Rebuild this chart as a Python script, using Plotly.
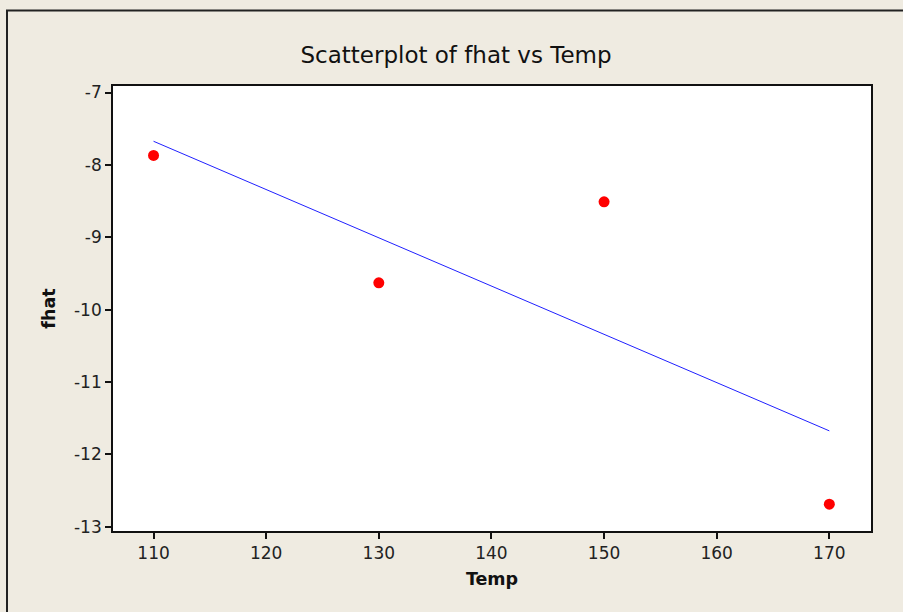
import numpy as np
import plotly.graph_objects as go

temp = [110, 130, 150, 170]
fhat = [-7.87, -9.63, -8.51, -12.69]
x_ticks = [110, 120, 130, 140, 150, 160, 170]
y_ticks = [-7, -8, -9, -10, -11, -12, -13]
y_tick_labels = ["-7", "-8", "-9", "-10", "-11", "-12", "-13"]

slope, intercept = np.polyfit(temp, fhat, 1)
line_x = [min(temp), max(temp)]
line_y = [slope * v + intercept for v in line_x]

W, H = 903, 612
L, R, T, B = 113, 32, 86, 81
pw, ph = W - L - R, H - T - B

def px(xp):
    return (xp - L) / pw

def py(yp):
    return 1 - (yp - T) / ph

fig = go.Figure()
fig.add_trace(go.Scatter(x=line_x, y=line_y, mode="lines",
                         line=dict(color="#2020FF", width=1), showlegend=False))
fig.add_trace(go.Scatter(x=temp, y=fhat, mode="markers",
                         marker=dict(color="#FF0000", size=11), showlegend=False))

fig.update_layout(
    width=W, height=H,
    margin=dict(l=L, r=R, t=T, b=B),
    paper_bgcolor="#EFEBE1",
    plot_bgcolor="white",
    font=dict(family="DejaVu Sans", color="#1a1a1a"),
    title=dict(text="Scatterplot of fhat vs Temp", x=0.505, xanchor="center",
               y=1 - 55 / H, yanchor="middle", font=dict(size=23, color="#111")),
    xaxis=dict(range=[106.4, 173.7], tickvals=x_ticks, ticks="outside", ticklen=6,
               tickcolor="#111", tickwidth=1.5, showline=True, linecolor="#111",
               linewidth=1.7, mirror=True, showgrid=False, zeroline=False,
               tickfont=dict(size=17, color="#222"),
               title=dict(text="<b>Temp</b>", font=dict(size=17.5, color="#111"), standoff=10)),
    yaxis=dict(range=[-13.06, -6.91], tickvals=y_ticks, ticktext=y_tick_labels,
               ticks="outside", ticklen=6,
               tickcolor="#111", tickwidth=1.5, showline=True, linecolor="#111",
               linewidth=1.7, mirror=True, showgrid=False, zeroline=False,
               tickfont=dict(size=17, color="#222"),
               title=dict(text="<b>fhat</b>", font=dict(size=17.5, color="#111"), standoff=14)),
    shapes=[
        dict(type="line", xref="paper", yref="paper", x0=px(6), x1=px(W + 5),
             y0=py(10.5), y1=py(10.5), line=dict(color="#222", width=2)),
        dict(type="line", xref="paper", yref="paper", x0=px(7), x1=px(7),
             y0=py(10), y1=py(H + 5), line=dict(color="#222", width=2)),
    ],
)

fig.write_html("out.html")
